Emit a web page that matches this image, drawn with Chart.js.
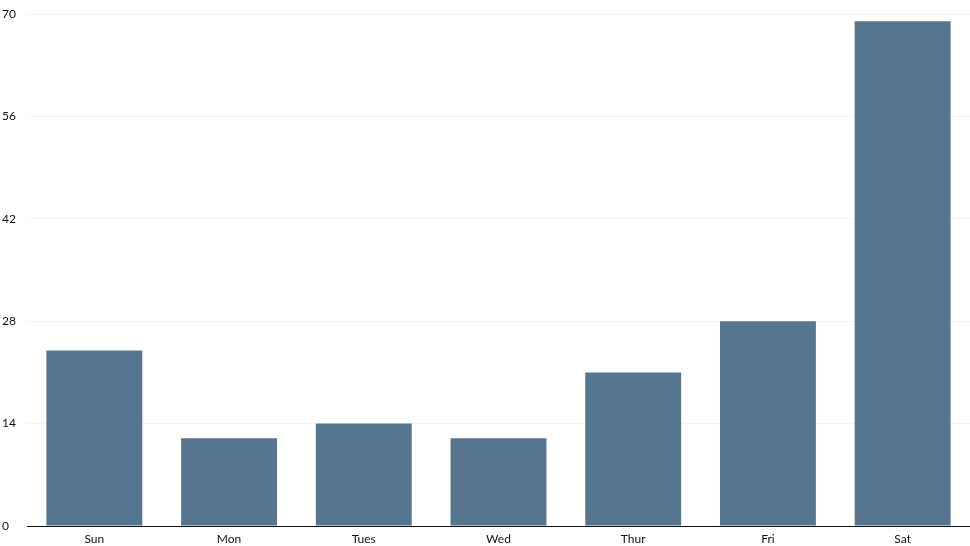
<!DOCTYPE html>
<html>
<head>
<meta charset="utf-8">
<script src="https://cdn.jsdelivr.net/npm/chart.js@4"></script>
<style>
html,body{margin:0;padding:0;background:#fff;}
#wrap{width:970px;height:546px;position:relative;}
</style>
</head>
<body>
<div id="wrap"><canvas id="c"></canvas></div>
<script>
const categories = ["Sun", "Mon", "Tues", "Wed", "Thur", "Fri", "Sat"];
const values = [24, 12, 14, 12, 21, 28, 69];
const yTicks = [0, 14, 28, 42, 56, 70];

Chart.defaults.font.family = "Lato, 'Open Sans', sans-serif";
Chart.defaults.font.size = 12;
Chart.defaults.color = "#111";

new Chart(document.getElementById("c"), {
  type: "bar",
  data: {
    labels: categories,
    datasets: [{
      data: values,
      backgroundColor: "#56768f",
      borderWidth: 0,
      categoryPercentage: 0.8,
      barPercentage: 0.89
    }]
  },
  options: {
    responsive: true,
    maintainAspectRatio: false,
    animation: false,
    layout: { padding: { top: 0, right: 0, left: 2, bottom: 0 } },
    plugins: { legend: { display: false }, tooltip: { enabled: false } },
    scales: {
      x: {
        afterFit: (axis) => { axis.height = 20; },
        grid: { display: false, drawTicks: false },
        border: { display: true, color: "#111", width: 1 },
        ticks: { padding: 6, color: "#111" }
      },
      y: {
        min: 0,
        max: 70,
        afterBuildTicks: (axis) => { axis.ticks = yTicks.map(v => ({ value: v })); },
        afterFit: (axis) => { axis.width = 25; axis.paddingTop = 14; },
        grid: { color: "#f3f3f3", drawTicks: false },
        border: { display: false },
        ticks: { crossAlign: "far", padding: 10, color: "#111" }
      }
    }
  }
});
</script>
</body>
</html>
